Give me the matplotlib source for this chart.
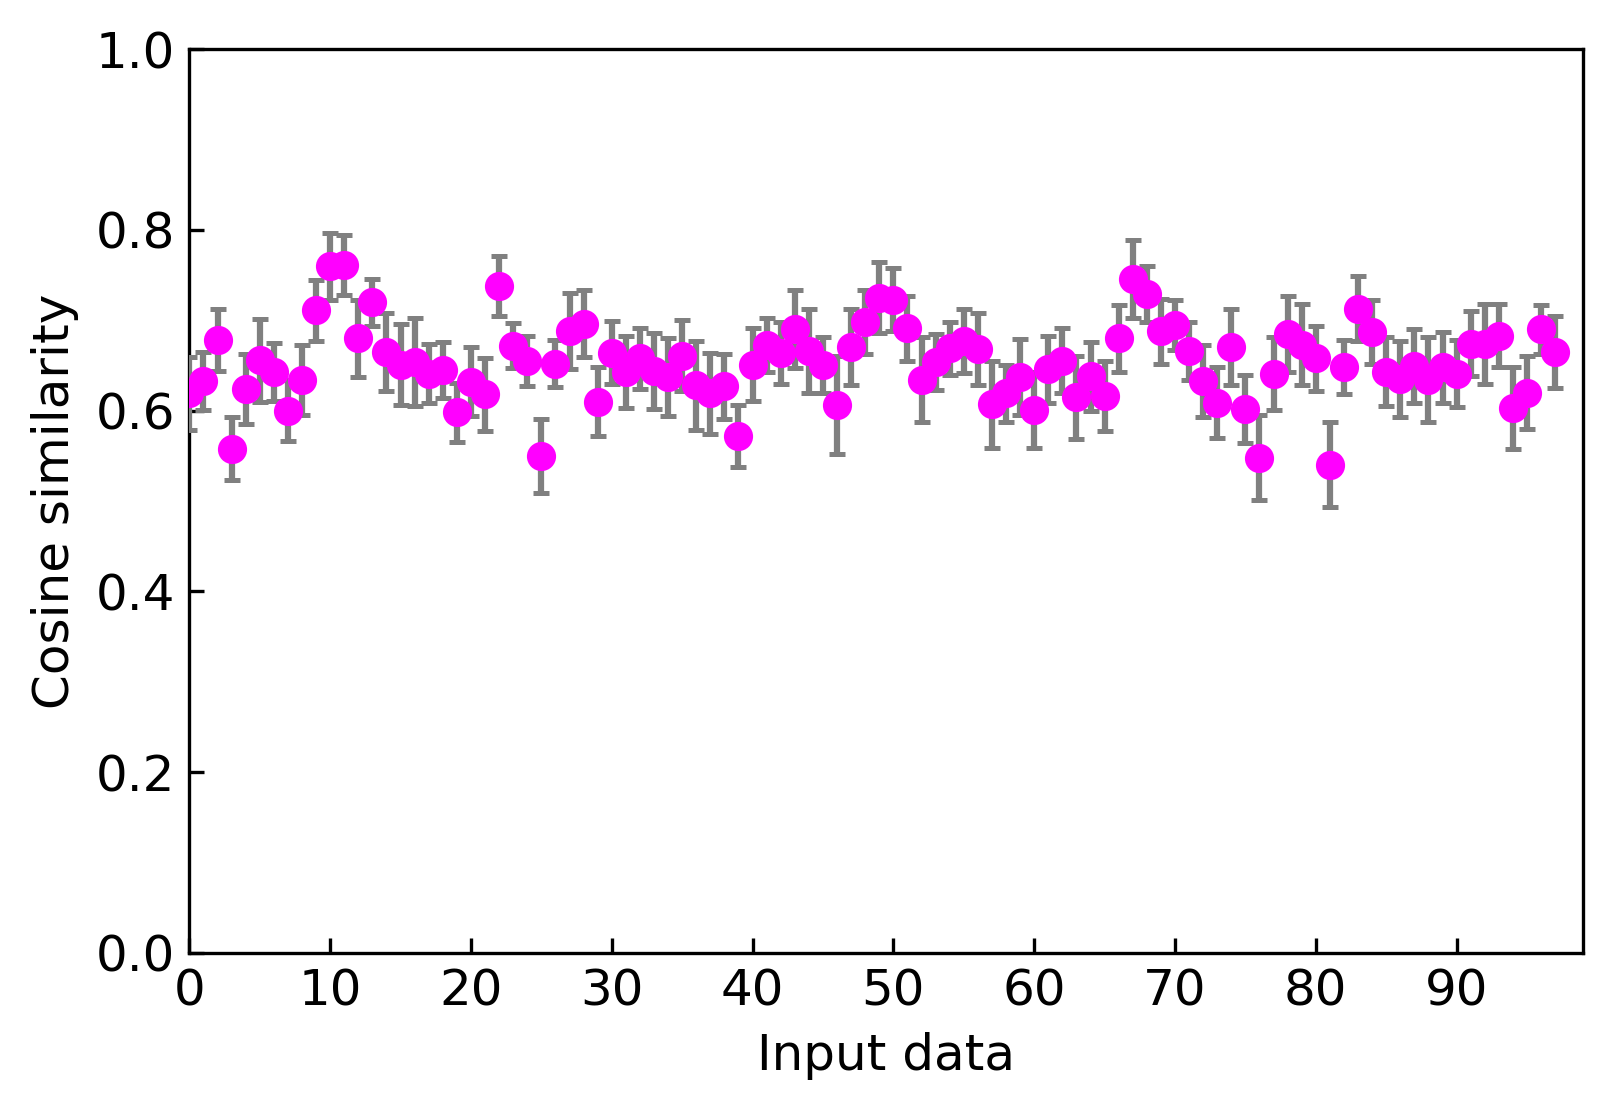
import matplotlib

matplotlib.use("Agg")
import matplotlib.pyplot as plt
import numpy as np

# mean cosine similarity per input
similarity = [
    0.619, 0.633, 0.678, 0.558, 0.624, 0.656, 0.643, 0.600, 0.634, 0.711,
    0.760, 0.761, 0.680, 0.720, 0.665, 0.651, 0.654, 0.641, 0.645, 0.598,
    0.632, 0.618, 0.738, 0.672, 0.655, 0.550, 0.652, 0.688, 0.696, 0.610,
    0.664, 0.643, 0.658, 0.644, 0.637, 0.661, 0.628, 0.619, 0.627, 0.572,
    0.651, 0.673, 0.664, 0.690, 0.666, 0.650, 0.606, 0.670, 0.698, 0.725,
    0.723, 0.691, 0.634, 0.654, 0.669, 0.677, 0.668, 0.607, 0.619, 0.637,
    0.601, 0.646, 0.655, 0.615, 0.638, 0.616, 0.680, 0.746, 0.729, 0.688,
    0.695, 0.666, 0.633, 0.609, 0.670, 0.602, 0.548, 0.641, 0.685, 0.673,
    0.658, 0.540, 0.648, 0.713, 0.687, 0.643, 0.635, 0.649, 0.634, 0.648,
    0.641, 0.674, 0.674, 0.683, 0.603, 0.620, 0.690, 0.665,
]
# standard deviation (half error-bar length)
spread = [
    0.040, 0.032, 0.034, 0.035, 0.039, 0.046, 0.032, 0.034, 0.039, 0.034,
    0.037, 0.033, 0.043, 0.026, 0.043, 0.045, 0.049, 0.033, 0.031, 0.033,
    0.038, 0.040, 0.033, 0.025, 0.028, 0.041, 0.026, 0.042, 0.037, 0.038,
    0.035, 0.040, 0.034, 0.042, 0.043, 0.039, 0.049, 0.045, 0.036, 0.034,
    0.040, 0.030, 0.034, 0.043, 0.047, 0.031, 0.054, 0.042, 0.035, 0.039,
    0.035, 0.036, 0.047, 0.031, 0.029, 0.035, 0.040, 0.048, 0.032, 0.042,
    0.042, 0.037, 0.036, 0.046, 0.038, 0.039, 0.037, 0.043, 0.031, 0.036,
    0.028, 0.032, 0.040, 0.039, 0.042, 0.038, 0.047, 0.040, 0.042, 0.045,
    0.036, 0.047, 0.030, 0.036, 0.035, 0.038, 0.042, 0.041, 0.047, 0.039,
    0.037, 0.036, 0.044, 0.035, 0.045, 0.040, 0.027, 0.040,
]
inputs = np.arange(len(similarity))

plt.rcParams["font.size"] = 12

fig = plt.figure(figsize=(1613 / 300, 1112 / 300), dpi=300)
ax = fig.add_axes([0.1174, 0.1432, 0.8642, 0.8125])

ax.errorbar(
    inputs,
    similarity,
    yerr=spread,
    fmt="o",
    color="#ff00ff",
    markersize=6,
    ecolor="gray",
    elinewidth=1.5,
    capsize=2,
    capthick=1.2,
    zorder=3,
)

ax.set_xlim(0, 99)
ax.set_ylim(0, 1)
ax.set_xticks(np.arange(0, 100, 10))
ax.set_yticks(np.arange(0, 1.01, 0.2))
ax.tick_params(direction="in")
ax.set_xlabel("Input data")
ax.set_ylabel("Cosine similarity")

fig.savefig("out.png", dpi=300)
